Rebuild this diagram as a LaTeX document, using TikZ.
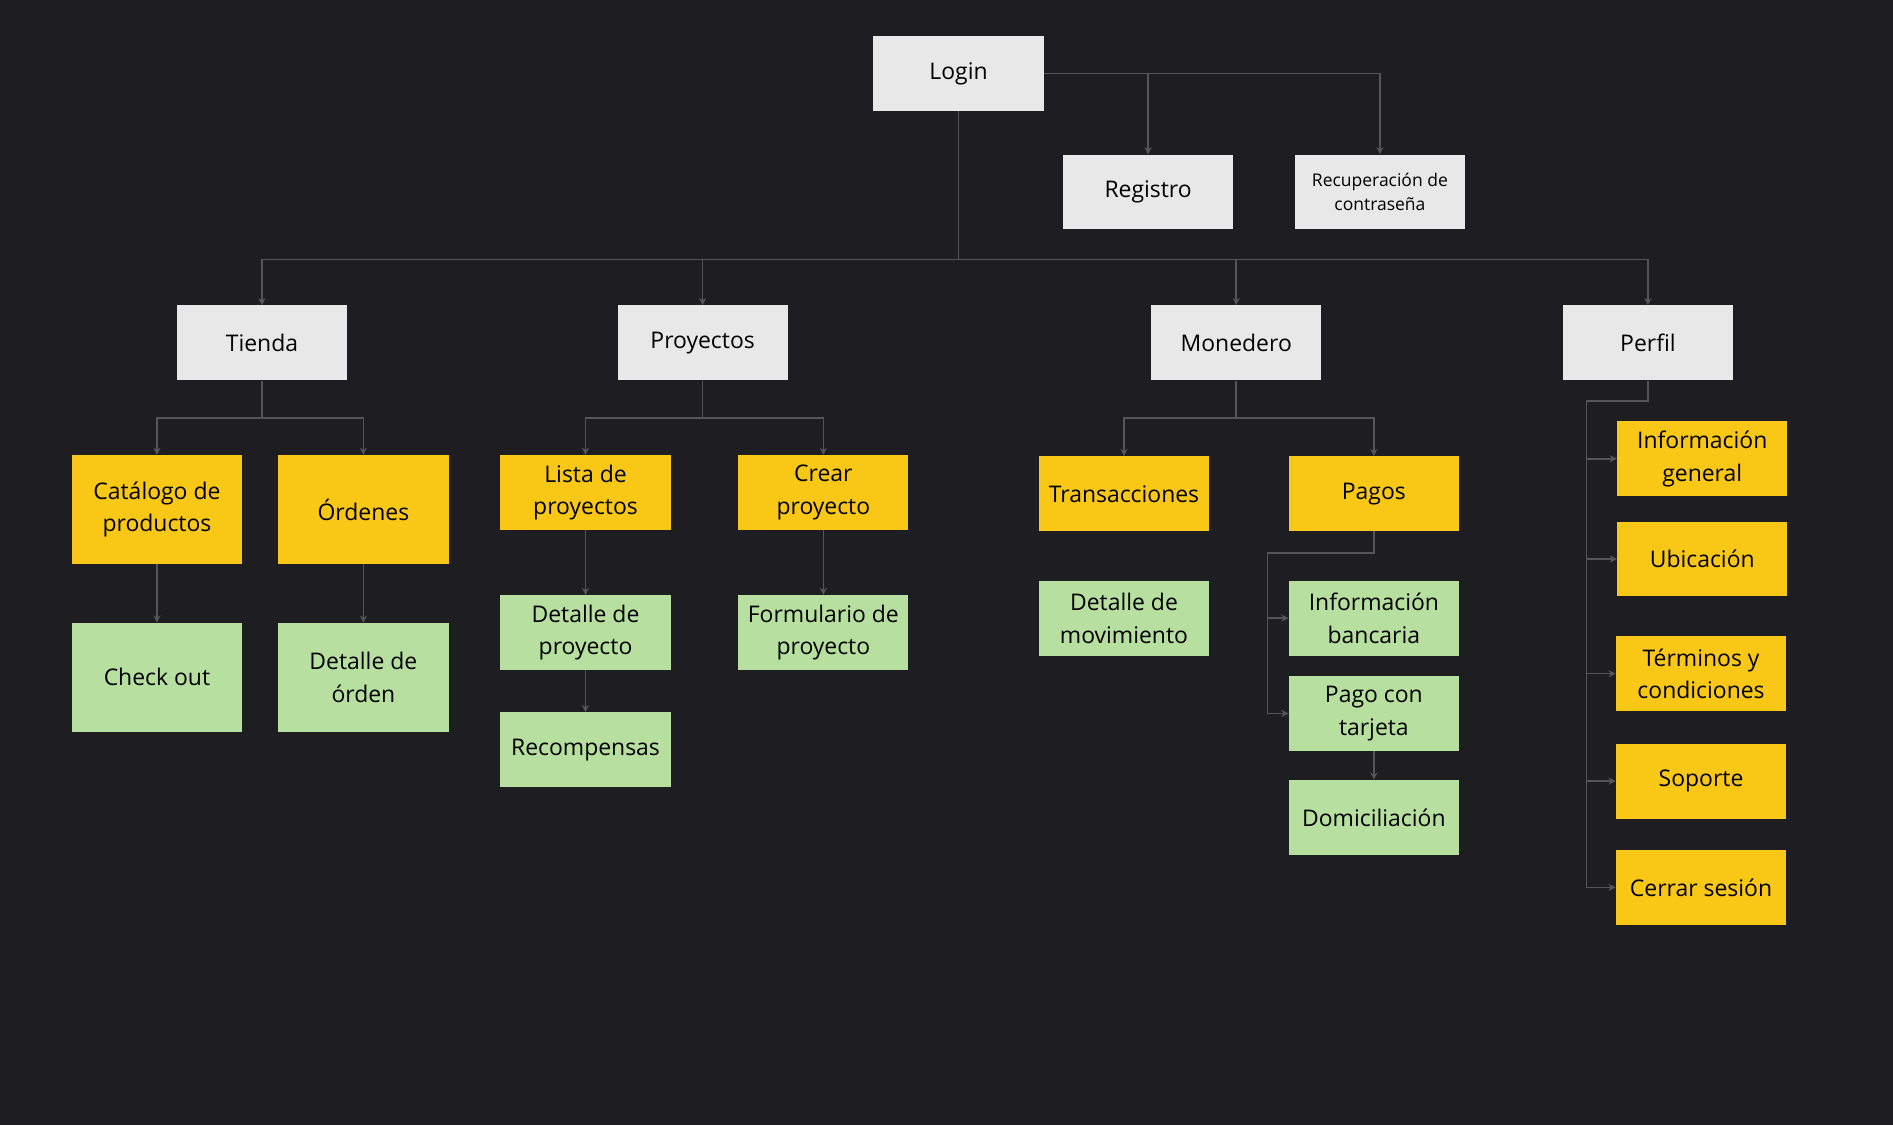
\documentclass[tikz,border=0pt]{standalone}
\usepackage{fontspec}
\setmainfont{Open Sans}
\usetikzlibrary{arrows.meta}
\definecolor{bg}{HTML}{1E1D21}
\definecolor{gr}{HTML}{E8E8E8}
\definecolor{yl}{HTML}{F9C716}
\definecolor{gn}{HTML}{B6DFA0}
\definecolor{ln}{HTML}{55555A}
\begin{document}
\begin{tikzpicture}[x=1pt,y=-1pt,
 box/.style={minimum width=141pt,minimum height=62pt,inner sep=2pt,align=center,text=black,font=\fontsize{19}{27}\selectfont},
 gbox/.style={box,fill=gr},
 ybox/.style={box,fill=yl},
 nbox/.style={box,fill=gn},
 tall/.style={minimum height=90pt},
 conn/.style={draw=ln,line width=1.3pt},
 arr/.style={conn,-{Stealth[length=6pt,width=6pt]}}]
\fill[bg] (0,0) rectangle (1568,932);
\useasboundingbox (0,0) rectangle (1568,932);
\node[gbox] (login) at (794,61) {Login};
\node[gbox] (reg) at (951,159) {Registro};
\node[gbox,font=\fontsize{14.5}{20}\selectfont] (rec) at (1143,159) {Recuperación de\\contraseña};
\node[gbox] (tienda) at (217,284) {Tienda};
\node[gbox] (proy) at (582,284) {Proyectos};
\node[gbox] (mon) at (1024,284) {Monedero};
\node[gbox] (perf) at (1365,284) {Perfil};
\node[ybox,tall] (cat) at (130,422) {Catálogo de\\productos};
\node[ybox,tall] (ord) at (301,422) {Órdenes};
\node[nbox,tall] (chk) at (130,561) {Check out};
\node[nbox,tall] (dord) at (301,561) {Detalle de\\órden};
\node[ybox] (lista) at (485,408) {Lista de\\proyectos};
\node[ybox] (crear) at (682,408) {Crear\\proyecto};
\node[nbox] (dproy) at (485,524) {Detalle de\\proyecto};
\node[nbox] (form) at (682,524) {Formulario de\\proyecto};
\node[nbox] (recomp) at (485,621) {Recompensas};
\node[ybox] (trans) at (931,409) {Transacciones};
\node[ybox] (pagos) at (1138,409) {Pagos};
\node[nbox] (dmov) at (931,512) {Detalle de\\movimiento};
\node[nbox] (ibanc) at (1138,512) {Información\\bancaria};
\node[nbox] (ptarj) at (1138,591) {Pago con\\tarjeta};
\node[nbox] (domi) at (1138,677) {Domiciliación};
\node[ybox] (igen) at (1410,380) {Información\\general};
\node[ybox] (ubic) at (1410,463) {Ubicación};
\node[ybox] (term) at (1409,558) {Términos y\\condiciones};
\node[ybox] (sop) at (1409,647) {Soporte};
\node[ybox] (cerr) at (1409,735) {Cerrar sesión};
% Login
\draw[arr] (login.east) -| (reg.north);
\draw[arr] (login.east) -| (rec.north);
\coordinate (lj) at (794,215);
\draw[conn] (login.south) -- (lj);
\foreach \n in {tienda,proy,mon,perf} \draw[arr] (lj) -| (\n.north);
% Tienda
\coordinate (tj) at (217,346);
\draw[conn] (tienda.south) -- (tj);
\draw[arr] (tj) -| (cat.north); \draw[arr] (tj) -| (ord.north);
\draw[arr] (cat) -- (chk); \draw[arr] (ord) -- (dord);
% Proyectos
\coordinate (pj) at (582,346);
\draw[conn] (proy.south) -- (pj);
\draw[arr] (pj) -| (lista.north); \draw[arr] (pj) -| (crear.north);
\draw[arr] (lista) -- (dproy); \draw[arr] (dproy) -- (recomp); \draw[arr] (crear) -- (form);
% Monedero
\coordinate (mj) at (1024,346);
\draw[conn] (mon.south) -- (mj);
\draw[arr] (mj) -| (trans.north); \draw[arr] (mj) -| (pagos.north);
\coordinate (pa) at (1138,458); \coordinate (pb) at (1050,458);
\draw[conn] (pagos.south) -- (pa) -- (pb) -- (1050,591);
\draw[arr] (1050,512) -- (ibanc.west);
\draw[arr] (1050,591) -- (ptarj.west);
\draw[arr] (ptarj) -- (domi);
% Perfil
\coordinate (fa) at (1365,332); \coordinate (fb) at (1314,332);
\draw[conn] (perf.south) -- (fa) -- (fb) -- (1314,735);
\foreach \n/\y in {igen/380,ubic/463,term/558,sop/647,cerr/735} \draw[arr] (1314,\y) -- (\n.west);
\end{tikzpicture}
\end{document}
